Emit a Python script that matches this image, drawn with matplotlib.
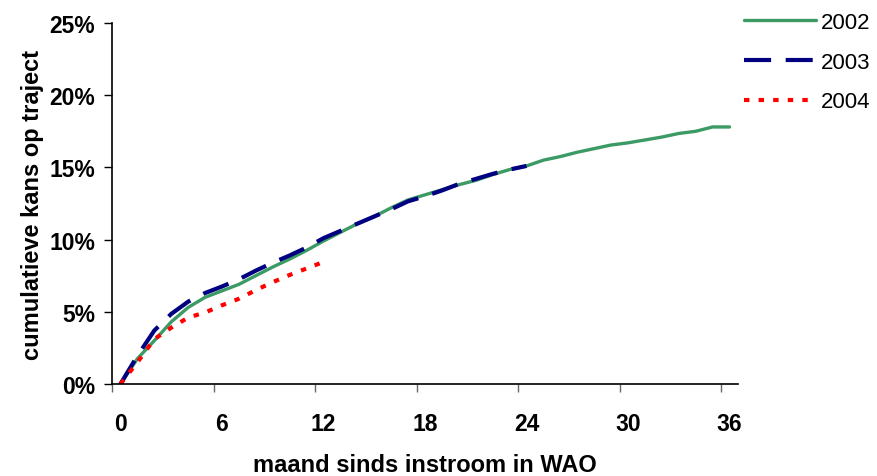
import matplotlib

matplotlib.use("Agg")
import matplotlib.pyplot as plt
from matplotlib.ticker import FixedLocator, FixedFormatter, PercentFormatter

plt.rcParams["font.family"] = ["Liberation Sans", "DejaVu Sans"]

# cumulative chance (%) per month since entering WAO
months_2002 = list(range(0, 37))
pct_2002 = [0.0, 1.75, 3.0, 4.3, 5.3, 6.0, 6.45, 6.9, 7.5, 8.1, 8.65, 9.25,
            9.9, 10.5, 11.1, 11.6, 12.2, 12.75, 13.1, 13.45, 13.8, 14.1,
            14.5, 14.85, 15.1, 15.5, 15.75, 16.05, 16.3, 16.55, 16.7, 16.9,
            17.1, 17.35, 17.5, 17.8, 17.8]

months_2003 = list(range(0, 25))
pct_2003 = [0.0, 1.95, 3.7, 4.85, 5.7, 6.3, 6.75, 7.25, 7.85, 8.4, 8.9, 9.45,
            10.1, 10.6, 11.1, 11.6, 12.1, 12.65, 13.0, 13.4, 13.85, 14.2,
            14.55, 14.85, 15.1]

months_2004 = list(range(0, 13))
pct_2004 = [0.0, 1.5, 3.1, 3.9, 4.6, 4.95, 5.45, 5.9, 6.5, 7.05, 7.55, 8.0, 8.45]

x_ticks = [0, 6, 12, 18, 24, 30, 36]

fig = plt.figure(figsize=(8.77, 4.77), dpi=100)
ax = fig.add_axes([0.1277, 0.1929, 0.7138, 0.7568])

# Excel category axis: points sit in the middle of each month slot
ax.plot([m + 0.5 for m in months_2002], pct_2002, color="#3c9a64",
        linewidth=2.4, label="2002", solid_capstyle="round")
ax.plot([m + 0.5 for m in months_2003], pct_2003, color="#000080",
        linewidth=3.0, dashes=(6.5, 3.5), label="2003")
ax.plot([m + 0.5 for m in months_2004], pct_2004, color="#ff0000",
        linewidth=3.0, dashes=(1.3, 2.2), label="2004")

ax.set_xlim(0, 37)
ax.set_ylim(0, 25)

ax.yaxis.set_major_locator(FixedLocator([0, 5, 10, 15, 20, 25]))
ax.yaxis.set_major_formatter(PercentFormatter(decimals=0))

ax.xaxis.set_major_locator(FixedLocator(x_ticks))
ax.xaxis.set_major_formatter(FixedFormatter([""] * len(x_ticks)))
ax.xaxis.set_minor_locator(FixedLocator([t + 0.5 for t in x_ticks]))
ax.xaxis.set_minor_formatter(FixedFormatter([str(t) for t in x_ticks]))

ax.tick_params(axis="y", which="major", length=6, width=1, pad=6,
               labelsize=16.5)
ax.tick_params(axis="x", which="major", length=5.5, width=1, color="#666666")
ax.tick_params(axis="x", which="minor", length=0, pad=20, labelsize=16.5)
for lbl in ax.get_yticklabels() + ax.get_xticklabels(minor=True):
    lbl.set_fontweight("bold")

for side in ("top", "right"):
    ax.spines[side].set_visible(False)
for side in ("left", "bottom"):
    ax.spines[side].set_linewidth(1.2)

ax.set_ylabel("cumulatieve kans op traject", fontsize=17, fontweight="bold",
              labelpad=4)
ax.set_xlabel("maand sinds instroom in WAO", fontsize=17, fontweight="bold",
              labelpad=13)

fig.legend(loc="upper left", bbox_to_anchor=(0.842, 0.985), frameon=False,
           fontsize=16, handlelength=3.25, handletextpad=0.2,
           labelspacing=0.85, borderaxespad=0.15, borderpad=0.1)

fig.savefig("out.png", dpi=100)
